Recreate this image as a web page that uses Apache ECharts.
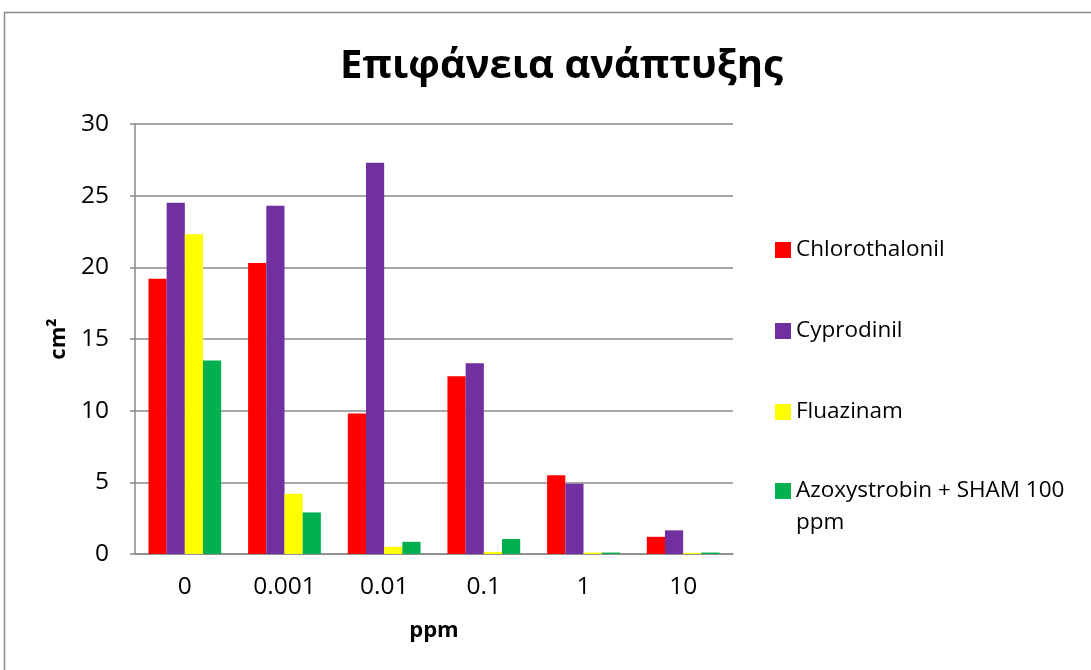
<!DOCTYPE html>
<html>
<head>
<meta charset="utf-8">
<title>Επιφάνεια ανάπτυξης</title>
<script src="https://cdn.jsdelivr.net/npm/echarts@6/dist/echarts.min.js"></script>
<style>
  html, body { margin: 0; padding: 0; background: #ffffff; }
  #chart { width: 1091px; height: 670px; }
</style>
</head>
<body>
<div id="chart"></div>
<script>
// Concentrations (ppm) on the category axis
const doses = ['0', '0.001', '0.01', '0.1', '1', '10'];

// Growth area (cm²) per fungicide and concentration
const chlorothalonil = [19.2, 20.3, 9.8, 12.4, 5.5, 1.2];
const cyprodinil = [24.5, 24.3, 27.3, 13.3, 4.9, 1.65];
const fluazinam = [22.3, 4.2, 0.5, 0.15, 0.1, 0.08];
const azoxystrobinSham = [13.5, 2.9, 0.85, 1.05, 0.1, 0.1];

const seriesNames = ['Chlorothalonil', 'Cyprodinil', 'Fluazinam', 'Azoxystrobin + SHAM 100 ppm'];
const seriesColors = ['#FF0000', '#7030A0', '#FFFF00', '#00B050'];
const seriesValues = [chlorothalonil, cyprodinil, fluazinam, azoxystrobinSham];

const yTicks = { min: 0, max: 30, interval: 5 };

const FONT = '"Open Sans", "Noto Sans", sans-serif';
const AXIS_GRAY = '#8a8a8a';

const chart = echarts.init(document.getElementById('chart'), null, { renderer: 'canvas' });

const legendText = { fontFamily: FONT, fontSize: 22.5, color: '#000', lineHeight: 32 };

chart.setOption({
  animation: false,
  backgroundColor: '#ffffff',
  graphic: [{
    type: 'rect',
    shape: { x: 4.5, y: 12.5, width: 1200, height: 800 },
    style: { fill: 'none', stroke: AXIS_GRAY, lineWidth: 1.5 },
    silent: true,
    z: -1
  }],
  title: {
    text: 'Επιφάνεια ανάπτυξης',
    left: 335,
    top: 42,
    textStyle: { fontFamily: FONT, fontSize: 40, fontWeight: 'bold', color: '#000' }
  },
  legend: [{
    orient: 'vertical',
    left: 775,
    top: 237,
    padding: 0,
    itemGap: 55,
    itemWidth: 16,
    itemHeight: 16,
    icon: 'rect',
    textStyle: Object.assign({}, legendText, { lineHeight: 26 }),
    data: seriesNames.slice(0, 3)
  }, {
    orient: 'vertical',
    left: 775,
    top: 443,
    padding: 0,
    itemWidth: 16,
    itemHeight: 16,
    icon: 'rect',
    textStyle: legendText,
    // first text line sits beside the marker, the rest wraps below it
    formatter: function (name) {
      return '\n' + name.replace(' ppm', '\nppm');
    },
    data: seriesNames.slice(3)
  }],
  grid: { left: 135, right: 358, top: 124, bottom: 116, containLabel: false },
  xAxis: {
    type: 'category',
    data: doses,
    name: 'ppm',
    nameLocation: 'middle',
    nameGap: 66,
    nameTextStyle: { fontFamily: FONT, fontSize: 22, fontWeight: 'bold', color: '#000' },
    axisLine: { show: true, lineStyle: { color: AXIS_GRAY, width: 1.5 } },
    axisTick: { show: false },
    axisLabel: { fontFamily: FONT, fontSize: 24.5, color: '#000', margin: 21 }
  },
  yAxis: {
    type: 'value',
    min: yTicks.min,
    max: yTicks.max,
    interval: yTicks.interval,
    name: 'cm²',
    nameLocation: 'middle',
    nameGap: 60,
    nameRotate: 90,
    nameTextStyle: { fontFamily: FONT, fontSize: 22, fontWeight: 'bold', color: '#000' },
    axisLine: { show: true, lineStyle: { color: AXIS_GRAY, width: 1.5 } },
    axisTick: { show: true, length: 5, lineStyle: { color: AXIS_GRAY, width: 1.5 } },
    axisLabel: { fontFamily: FONT, fontSize: 24.5, color: '#000', margin: 26 },
    splitLine: { show: true, lineStyle: { color: AXIS_GRAY, width: 1.5 } }
  },
  series: seriesNames.map(function (name, i) {
    return {
      name: name,
      type: 'bar',
      data: seriesValues[i],
      barGap: '0%',
      barCategoryGap: '27%',
      itemStyle: { color: seriesColors[i] }
    };
  })
});
</script>
</body>
</html>
